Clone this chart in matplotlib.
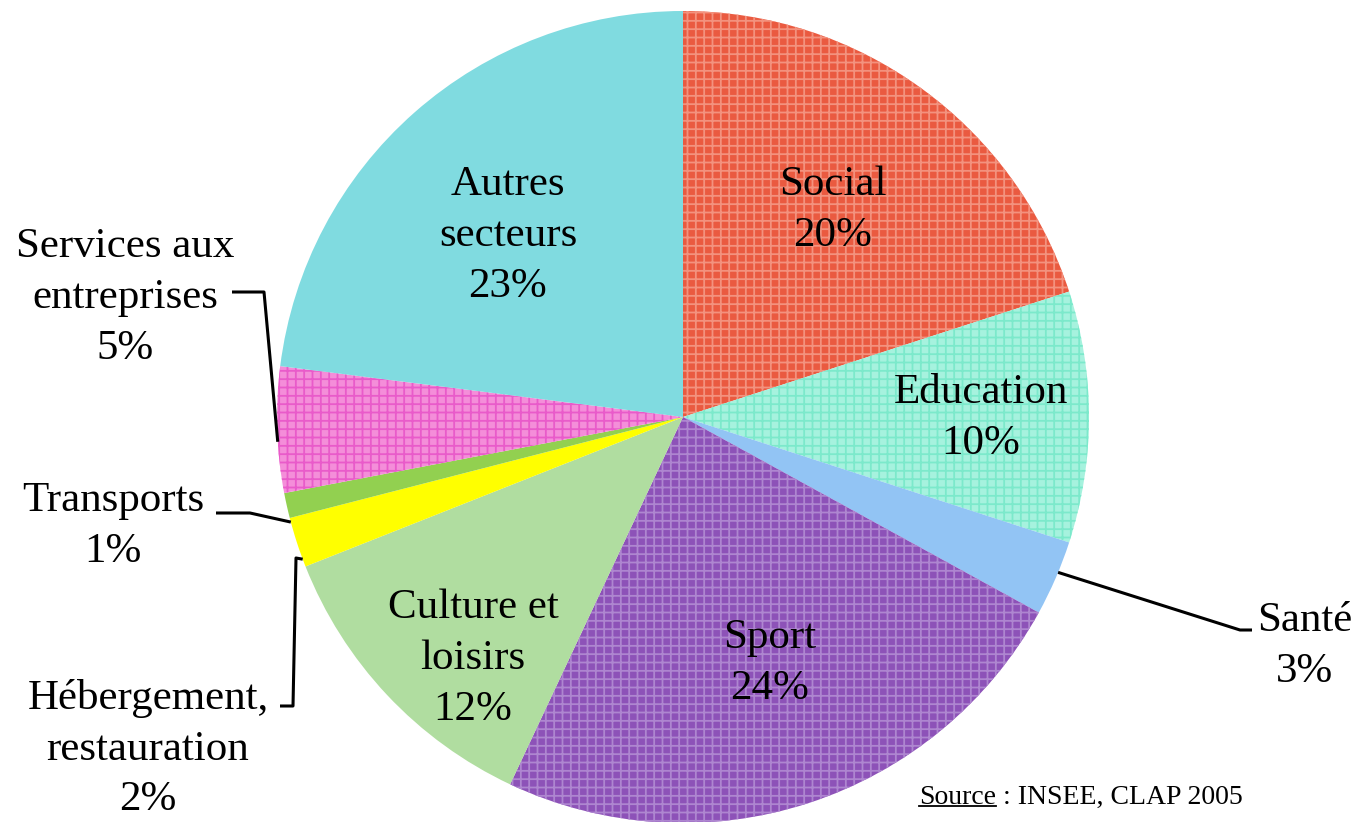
import numpy as np
import matplotlib
matplotlib.use('Agg')
import matplotlib.pyplot as plt

# data (clockwise from 12 o'clock)
labels = ['Social', 'Education', 'Santé', 'Sport', 'Culture et\nloisirs',
          'Hébergement,\nrestauration', 'Transports', 'Services aux\nentreprises',
          'Autres\nsecteurs']
values = [20, 10, 3, 24, 12, 2, 1, 5, 23]
colors = ['#EA5A40', '#A6F2DE', '#92C4F4', '#8D52B8', '#B0DDA0',
          '#FFFF00', '#92D050', '#F48ED9', '#80DBE0']
hatch_colors = ['#F3927E', '#7CE9CB', None, '#AE86D0', None,
                None, None, '#E95BCA', None]
source_text = 'INSEE, CLAP 2005'

plt.rcParams['font.family'] = ['Liberation Serif', 'DejaVu Serif']
plt.rcParams['hatch.linewidth'] = 1.3

W, H = 1361, 822
fig = plt.figure(figsize=(W / 100, H / 100), dpi=100)
ax = fig.add_axes([0, 0, 1, 1])

cx, cy, R = 683, H - 417, 406

wedges, _ = ax.pie(values, colors=colors, startangle=90, counterclock=False,
                   center=(cx, cy), radius=R,
                   wedgeprops=dict(linewidth=0))
for w, hc in zip(wedges, hatch_colors):
    if hc:
        w.set_hatch('++')
        w.set_edgecolor(hc)
        w.set_linewidth(0)

ax.set_xlim(0, W)
ax.set_ylim(0, H)
ax.set_aspect('equal')
ax.axis('off')

fs = 31

def lab(x, y, name, val):
    # x, y = centre of the text block, pixels from top-left
    txt = name + '\n' + f'{val}%'
    ax.text(x, H - y, txt, ha='center', va='center', fontsize=fs,
            linespacing=1.42, color='black')

# inside labels
lab(833, 210, labels[0], values[0])
lab(981, 418, labels[1], values[1])
lab(770, 663, labels[3], values[3])
lab(473, 659, labels[4], values[4])
lab(508, 236, labels[8], values[8])
# outside labels
lab(1305, 646, labels[2], values[2])
lab(148, 749, labels[5], values[5])
lab(113, 526, labels[6], values[6])
lab(125, 298, labels[7], values[7])

def leader(ang, pts):
    th = np.deg2rad(ang)
    xs = [cx + R * np.cos(th)] + [p[0] for p in pts]
    ys = [cy + R * np.sin(th)] + [H - p[1] for p in pts]
    ax.plot(xs, ys, color='black', lw=2.2, solid_capstyle='butt')

leader(-22.5, [(1240, 630), (1252, 630)])
leader(200.5, [(296, 558), (293, 706), (280, 706)])
leader(195.0, [(250, 513), (216, 513)])
leader(183.5, [(264, 292), (232, 292)])

# source
sy = H - 797
t1 = ax.text(1243, sy, ' : ' + source_text, ha='right', va='center',
             fontsize=20)
fig.canvas.draw()
bb = t1.get_window_extent()
t2 = ax.text(bb.x0, sy, 'Source', ha='right', va='center', fontsize=20)
fig.canvas.draw()
bb2 = t2.get_window_extent()
ax.plot([bb2.x0, bb2.x1], [bb2.y0 + 3, bb2.y0 + 3], color='black', lw=1.3)

fig.savefig('out.png', dpi=100)
